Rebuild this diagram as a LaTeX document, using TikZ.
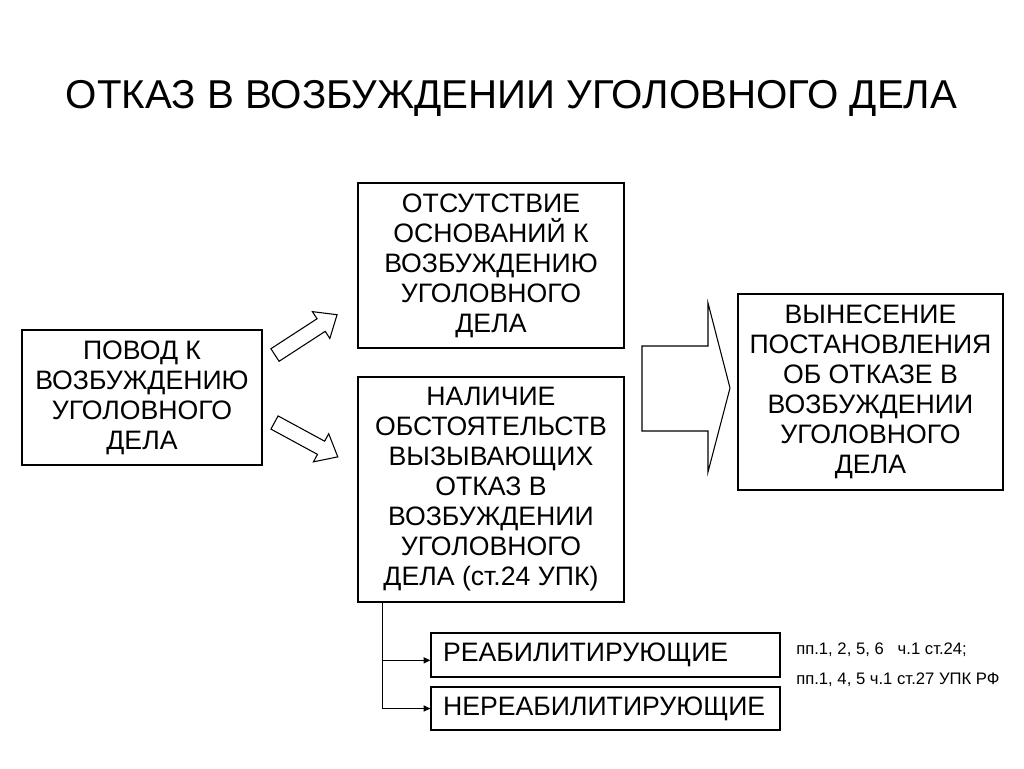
\documentclass[tikz,border=0pt]{standalone}
\usepackage{fontspec}
\setmainfont{Liberation Sans}
\usetikzlibrary{arrows.meta}

\begin{document}
\begin{tikzpicture}[
    x=0.75pt, y=-0.75pt,
    every node/.style={font=\fontsize{20}{22.5}\selectfont},
    box/.style={draw, line width=0.9pt, align=center, inner sep=0pt},
    listbox/.style={draw, line width=0.9pt, align=left, inner xsep=9pt, inner ysep=0pt,
      text width=243.75pt, minimum width=261.75pt},
    note/.style={anchor=base west, inner sep=0pt, font=\fontsize{12.5}{14}\selectfont},
    blockarr/.style={draw, line width=0.8pt, fill=white},
    arr/.style={-{Triangle[length=5pt, width=4.5pt]}, line width=0.8pt}
  ]
  \fill[white] (0,0) rectangle (1024,768);
  \useasboundingbox (0,0) rectangle (1024,768);

  % Title
  \node[font=\fontsize{30.2}{34}\selectfont] (title) at (511.5,98) {ОТКАЗ В ВОЗБУЖДЕНИИ УГОЛОВНОГО ДЕЛА};

  % Boxes
  \node[box, minimum width=180pt, minimum height=101.25pt] (povod) at (142,397.5)
    {ПОВОД К\\ВОЗБУЖДЕНИЮ\\УГОЛОВНОГО\\ДЕЛА};
  \node[box, minimum width=199.5pt, minimum height=123.75pt] (otsut) at (491,265.5)
    {ОТСУТСТВИЕ\\ОСНОВАНИЙ К\\ВОЗБУЖДЕНИЮ\\УГОЛОВНОГО\\ДЕЛА};
  \node[box, minimum width=199.5pt, minimum height=168.75pt] (nalich) at (491,489.5)
    {НАЛИЧИЕ\\ОБСТОЯТЕЛЬСТВ\\ВЫЗЫВАЮЩИХ\\ОТКАЗ В\\ВОЗБУЖДЕНИИ\\УГОЛОВНОГО\\ДЕЛА (ст.24 УПК)};
  \node[box, minimum width=198.75pt, minimum height=147pt] (vynes) at (870.5,392)
    {ВЫНЕСЕНИЕ\\ПОСТАНОВЛЕНИЯ\\ОБ ОТКАЗЕ В\\ВОЗБУЖДЕНИИ\\УГОЛОВНОГО\\ДЕЛА};

  % Kinds of refusal
  \node[listbox, minimum height=33pt] (reab) at (605.5,655) {РЕАБИЛИТИРУЮЩИЕ};
  \node[listbox, minimum height=32.25pt] (nereab) at (605.5,708.5) {НЕРЕАБИЛИТИРУЮЩИЕ};
  \coordinate (split) at ([xshift=18.75pt]nalich.south west);
  \draw[arr] (split) |- ([yshift=-4pt]reab.west);
  \draw[arr] (split) |- (nereab.west);

  % Notes
  \node[note] (note1) at (796,654) {пп.1, 2, 5, 6 \ \ ч.1 ст.24;};
  \node[note] (note2) at (796,684) {пп.1, 4, 5 ч.1 ст.27 УПК РФ};

  % Block arrows
  \begin{scope}[shift={(275,355)}, rotate=33]
    \draw[blockarr] (0,-7.5) -- (55,-7.5) -- (55,-16) -- (74,0) -- (55,16) -- (55,7.5) -- (0,7.5) -- cycle;
  \end{scope}
  \begin{scope}[shift={(274.5,422.5)}, rotate=-28.5]
    \draw[blockarr] (0,-7.5) -- (53,-7.5) -- (53,-16) -- (72,0) -- (53,16) -- (53,7.5) -- (0,7.5) -- cycle;
  \end{scope}
  \draw[blockarr] (642,346) -- (708,346) -- (708,303) -- (730,388) -- (708,472) -- (708,431) -- (642,431) -- cycle;
\end{tikzpicture}
\end{document}
